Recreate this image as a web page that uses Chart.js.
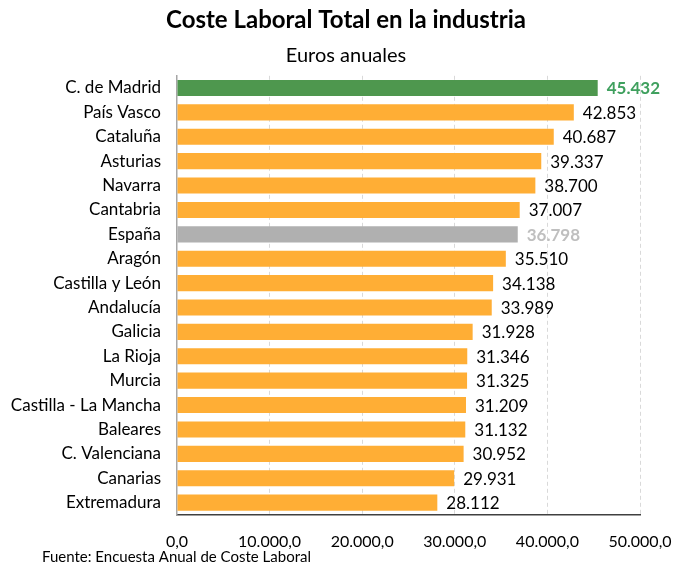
<!DOCTYPE html>
<html>
<head>
<meta charset="utf-8">
<script src="https://cdn.jsdelivr.net/npm/chart.js@4.4.1/dist/chart.umd.min.js"></script>
<style>
  html, body { margin: 0; padding: 0; background: #fff; }
  #wrap { width: 676px; height: 568px; position: relative; }
</style>
</head>
<body>
<div id="wrap"><canvas id="chart"></canvas></div>
<script>
const regiones = ["C. de Madrid", "País Vasco", "Cataluña", "Asturias", "Navarra", "Cantabria",
  "España", "Aragón", "Castilla y León", "Andalucía", "Galicia", "La Rioja", "Murcia",
  "Castilla - La Mancha", "Baleares", "C. Valenciana", "Canarias", "Extremadura"];
const costeLaboral = [45432, 42853, 40687, 39337, 38700, 37007, 36798, 35510, 34138, 33989,
  31928, 31346, 31325, 31209, 31132, 30952, 29931, 28112];
const ticksEje = [0, 10000, 20000, 30000, 40000, 50000];

const FONT = "Lato, 'Open Sans', sans-serif";
const NARANJA = '#FFAE35';
const VERDE = '#4E974E';
const GRIS = '#B0B0B0';

const fmtMiles = v => Math.round(v).toString().replace(/\B(?=(\d{3})+(?!\d))/g, '.');

const colores = regiones.map(r => r === 'C. de Madrid' ? VERDE : (r === 'España' ? GRIS : NARANJA));

// valores al final de cada barra
const etiquetas = {
  id: 'etiquetas',
  afterDatasetsDraw(chart) {
    const ctx = chart.ctx;
    const meta = chart.getDatasetMeta(0);
    ctx.save();
    ctx.textBaseline = 'middle';
    ctx.textAlign = 'left';
    meta.data.forEach((bar, i) => {
      const r = regiones[i];
      if (r === 'C. de Madrid') {
        ctx.fillStyle = '#3FA05E';
        ctx.font = 'bold 17px ' + FONT;
      } else if (r === 'España') {
        ctx.fillStyle = '#BFBFBF';
        ctx.font = 'bold 17px ' + FONT;
      } else {
        ctx.fillStyle = '#000';
        ctx.font = '17px ' + FONT;
      }
      ctx.fillText(fmtMiles(costeLaboral[i]), bar.x + 9, bar.y + 1);
    });
    ctx.restore();
  }
};

// nota de fuente bajo el eje
const fuente = {
  id: 'fuente',
  afterDraw(chart) {
    const ctx = chart.ctx;
    ctx.save();
    ctx.font = '15px ' + FONT;
    ctx.fillStyle = '#000';
    ctx.textBaseline = 'middle';
    ctx.textAlign = 'left';
    ctx.fillText('Fuente: Encuesta Anual de Coste Laboral', 42, 557);
    ctx.restore();
  }
};

// las etiquetas largas del eje Y pueden entrar en el margen izquierdo sin recortarse
const sinRecorte = {
  id: 'sinRecorte',
  afterLayout(chart) { chart.scales.y.left = 0; }
};

new Chart(document.getElementById('chart'), {
  type: 'bar',
  data: {
    labels: regiones,
    datasets: [{
      data: costeLaboral,
      backgroundColor: colores,
      borderWidth: 0,
      barPercentage: 0.66,
      categoryPercentage: 1
    }]
  },
  options: {
    indexAxis: 'y',
    responsive: true,
    maintainAspectRatio: false,
    animation: false,
    layout: { padding: { left: 16, right: 0, top: 0, bottom: 0 } },
    plugins: {
      legend: { display: false },
      tooltip: { enabled: false },
      title: {
        display: true,
        text: 'Coste Laboral Total en la industria',
        color: '#000',
        font: { family: FONT, size: 24, weight: 'bold' },
        padding: { top: 6, bottom: 9 }
      },
      subtitle: {
        display: true,
        text: 'Euros anuales',
        color: '#000',
        font: { family: FONT, size: 20 },
        padding: { top: 0, bottom: 8 }
      }
    },
    scales: {
      x: {
        min: 0,
        max: 50000,
        afterBuildTicks: s => { s.ticks = ticksEje.map(v => ({ value: v })); },
        afterFit: s => { s.paddingRight = 36; s.paddingLeft = 0; },
        ticks: {
          color: '#000',
          font: { family: FONT, size: 16 },
          padding: 17,
          callback: v => fmtMiles(v) + ',0'
        },
        grid: {
          color: ctx => ctx.tick && ctx.tick.value === 0 ? 'rgba(0,0,0,0)' : '#D9D9D9',
          drawTicks: false
        },
        border: { display: true, color: '#404040', width: 1.5, dash: [4, 3] }
      },
      y: {
        afterFit: s => { s.width = 161; },
        ticks: {
          color: '#000',
          font: { family: FONT, size: 17 },
          padding: 16
        },
        grid: { display: false, drawTicks: false },
        border: { display: true, color: '#A6A6A6', width: 1.5 }
      }
    }
  },
  plugins: [etiquetas, fuente, sinRecorte]
});
</script>
</body>
</html>
